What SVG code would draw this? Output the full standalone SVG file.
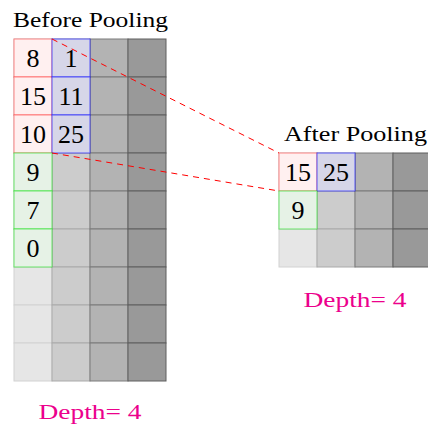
<svg xmlns="http://www.w3.org/2000/svg" width="428" height="425" viewBox="0 0 428 425">
  <style>
    .c1 { fill: #e6e6e6; stroke: #d2d2d2; stroke-width: 1; }
    .c2 { fill: #cccccc; stroke: #aaaaaa; stroke-width: 1; }
    .c3 { fill: #b3b3b3; stroke: #7a7a7a; stroke-width: 1; }
    .c4 { fill: #999999; stroke: #5e5e5e; stroke-width: 1; }
    .hr { fill: #fff0f0; stroke: #ff0000; stroke-opacity: 0.45; stroke-width: 1; }
    .hb { fill: #d6d6e8; stroke: #0000ff; stroke-opacity: 0.6; stroke-width: 1; }
    .hg { fill: #e6f2e6; stroke: #00e000; stroke-opacity: 0.55; stroke-width: 1; }
    .link { fill: none; stroke: #ff0000; stroke-width: 1; stroke-dasharray: 6 5; }
  </style>

  <!-- input feature map: 4 channels, 9 rows -->
  <g id="input-map">
    <g id="input-col1">
      <rect class="c1" x="14" y="39" width="38" height="38"/>
      <rect class="c1" x="14" y="77" width="38" height="38"/>
      <rect class="c1" x="14" y="115" width="38" height="38"/>
      <rect class="c1" x="14" y="153" width="38" height="38"/>
      <rect class="c1" x="14" y="191" width="38" height="38"/>
      <rect class="c1" x="14" y="229" width="38" height="38"/>
      <rect class="c1" x="14" y="267" width="38" height="38"/>
      <rect class="c1" x="14" y="305" width="38" height="38"/>
      <rect class="c1" x="14" y="343" width="38" height="38"/>
    </g>
    <g id="input-col2">
      <rect class="c2" x="52" y="39" width="38" height="38"/>
      <rect class="c2" x="52" y="77" width="38" height="38"/>
      <rect class="c2" x="52" y="115" width="38" height="38"/>
      <rect class="c2" x="52" y="153" width="38" height="38"/>
      <rect class="c2" x="52" y="191" width="38" height="38"/>
      <rect class="c2" x="52" y="229" width="38" height="38"/>
      <rect class="c2" x="52" y="267" width="38" height="38"/>
      <rect class="c2" x="52" y="305" width="38" height="38"/>
      <rect class="c2" x="52" y="343" width="38" height="38"/>
    </g>
    <g id="input-col3">
      <rect class="c3" x="90" y="39" width="38" height="38"/>
      <rect class="c3" x="90" y="77" width="38" height="38"/>
      <rect class="c3" x="90" y="115" width="38" height="38"/>
      <rect class="c3" x="90" y="153" width="38" height="38"/>
      <rect class="c3" x="90" y="191" width="38" height="38"/>
      <rect class="c3" x="90" y="229" width="38" height="38"/>
      <rect class="c3" x="90" y="267" width="38" height="38"/>
      <rect class="c3" x="90" y="305" width="38" height="38"/>
      <rect class="c3" x="90" y="343" width="38" height="38"/>
    </g>
    <g id="input-col4">
      <rect class="c4" x="128" y="39" width="38" height="38"/>
      <rect class="c4" x="128" y="77" width="38" height="38"/>
      <rect class="c4" x="128" y="115" width="38" height="38"/>
      <rect class="c4" x="128" y="153" width="38" height="38"/>
      <rect class="c4" x="128" y="191" width="38" height="38"/>
      <rect class="c4" x="128" y="229" width="38" height="38"/>
      <rect class="c4" x="128" y="267" width="38" height="38"/>
      <rect class="c4" x="128" y="305" width="38" height="38"/>
      <rect class="c4" x="128" y="343" width="38" height="38"/>
    </g>
  </g>

  <g font-family="Liberation Serif, Times New Roman, serif" font-size="26" text-anchor="middle" fill="#000">
    <!-- pooling windows on the input -->
    <g id="window-red">
      <rect class="hr" x="14" y="39" width="38" height="38"/>
      <rect class="hr" x="14" y="77" width="38" height="38"/>
      <rect class="hr" x="14" y="115" width="38" height="38"/>
      <text x="33" y="67">8</text>
      <text x="33" y="105">15</text>
      <text x="33" y="143">10</text>
    </g>
    <g id="window-blue">
      <rect class="hb" x="52" y="39" width="38" height="38"/>
      <rect class="hb" x="52" y="77" width="38" height="38"/>
      <rect class="hb" x="52" y="115" width="38" height="38"/>
      <text x="71" y="67">1</text>
      <text x="71" y="105">11</text>
      <text x="71" y="143">25</text>
    </g>
    <g id="window-green">
      <rect class="hg" x="14" y="153" width="38" height="38"/>
      <rect class="hg" x="14" y="191" width="38" height="38"/>
      <rect class="hg" x="14" y="229" width="38" height="38"/>
      <text x="33" y="181">9</text>
      <text x="33" y="219">7</text>
      <text x="33" y="257">0</text>
    </g>
  </g>

  <!-- pooled output map: 4 channels, 3 rows -->
  <g id="output-map">
    <rect class="c1" x="279" y="153" width="38" height="38"/>
    <rect class="c1" x="279" y="191" width="38" height="38"/>
    <rect class="c1" x="279" y="229" width="38" height="38"/>
    <rect class="c2" x="317" y="153" width="38" height="38"/>
    <rect class="c2" x="317" y="191" width="38" height="38"/>
    <rect class="c2" x="317" y="229" width="38" height="38"/>
    <rect class="c3" x="355" y="153" width="38" height="38"/>
    <rect class="c3" x="355" y="191" width="38" height="38"/>
    <rect class="c3" x="355" y="229" width="38" height="38"/>
    <rect class="c4" x="393" y="153" width="38" height="38"/>
    <rect class="c4" x="393" y="191" width="38" height="38"/>
    <rect class="c4" x="393" y="229" width="38" height="38"/>
  </g>
  <g font-family="Liberation Serif, Times New Roman, serif" font-size="26" text-anchor="middle" fill="#000">
    <g id="out-red">
      <rect class="hr" x="279" y="153" width="38" height="38"/>
      <text x="298" y="181">15</text>
    </g>
    <g id="out-blue">
      <rect class="hb" x="317" y="153" width="38" height="38"/>
      <text x="336" y="181">25</text>
    </g>
    <g id="out-green">
      <rect class="hg" x="279" y="191" width="38" height="38"/>
      <text x="298" y="219">9</text>
    </g>
  </g>

  <!-- labels -->
  <g id="labels" font-family="Liberation Serif, Times New Roman, serif" font-size="21">
    <text x="13" y="27" fill="#000" textLength="155" lengthAdjust="spacingAndGlyphs">Before Pooling</text>
    <text x="284" y="141" fill="#000" textLength="143" lengthAdjust="spacingAndGlyphs">After Pooling</text>
    <text x="38.5" y="419" fill="#ec008c" textLength="103" lengthAdjust="spacingAndGlyphs">Depth= 4</text>
    <text x="303.5" y="306.5" fill="#ec008c" textLength="103" lengthAdjust="spacingAndGlyphs">Depth= 4</text>
  </g>

  <!-- connectors from the input window to the pooled cells -->
  <g id="connectors">
    <line class="link" x1="52" y1="39" x2="279" y2="153"/>
    <line class="link" x1="52" y1="153" x2="279" y2="191"/>
  </g>
</svg>
